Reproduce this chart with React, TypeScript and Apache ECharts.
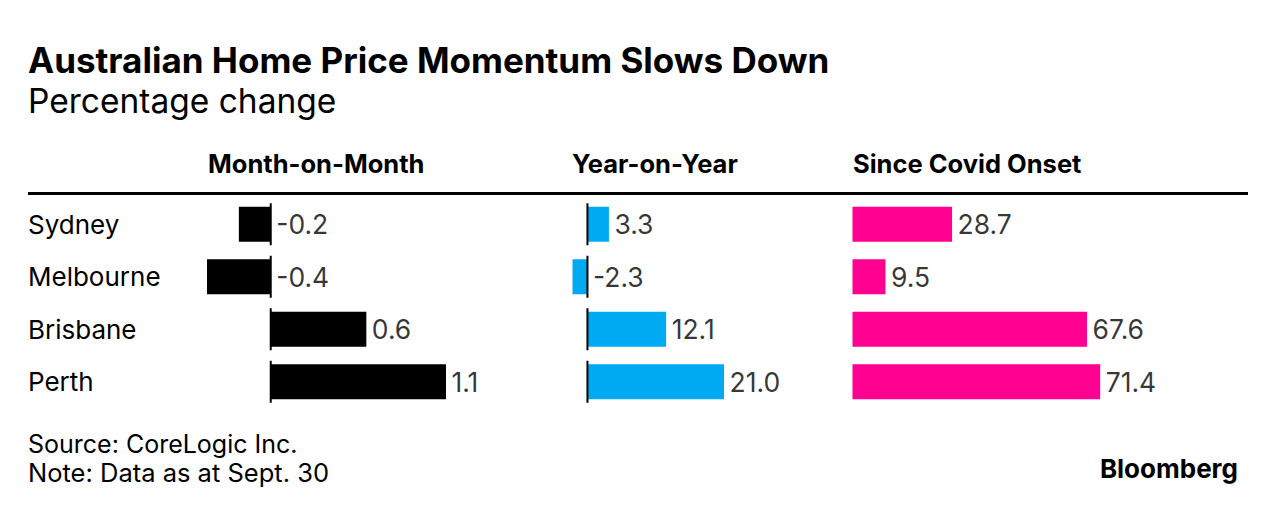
import React, { useEffect, useRef } from "react";
import * as echarts from "echarts";

const cities = ["Sydney", "Melbourne", "Brisbane", "Perth"];
const monthOnMonth = [-0.2, -0.4, 0.6, 1.1];
const yearOnYear = [3.3, -2.3, 12.1, 21.0];
const sinceCovid = [28.7, 9.5, 67.6, 71.4];
const panelTitles = ["Month-on-Month", "Year-on-Year", "Since Covid Onset"];
const panelColors = ["#000000", "#00AAF2", "#FF0090"];

const titleText = "Australian Home Price Momentum Slows Down";
const subtitleText = "Percentage change";
const sourceText = "Source: CoreLogic Inc.";
const noteText = "Note: Data as at Sept. 30";
const brandText = "Bloomberg";

const FONT = "Inter, 'Liberation Sans', Arial, sans-serif";

export default function App() {
  const ref = useRef<HTMLDivElement>(null);

  useEffect(() => {
    if (!ref.current) return;
    const chart = echarts.init(ref.current, undefined, { renderer: "svg" });

    const panels = [
      { values: monthOnMonth, min: -0.4, max: 1.1, left: 207, width: 239, zeroLine: true, headerX: 208 },
      { values: yearOnYear, min: -2.3, max: 21.0, left: 572.5, width: 151.5, zeroLine: true, headerX: 572 },
      { values: sinceCovid, min: 0, max: 71.4, left: 852.5, width: 247.7, zeroLine: false, headerX: 853 },
    ];

    const grids = panels.map((p) => ({ left: p.left, width: p.width, top: 198, height: 210 }));
    const xAxes = panels.map((p, i) => ({
      type: "value",
      gridIndex: i,
      min: p.min,
      max: p.max,
      show: false,
      splitLine: { show: false },
    }));
    const yAxes = panels.map((p, i) => ({
      type: "category",
      gridIndex: i,
      data: cities,
      inverse: true,
      axisLine: { show: false },
      axisTick: { show: false },
      axisLabel: {
        show: i === 0,
        align: "left",
        margin: p.left - 28,
        fontFamily: FONT,
        fontSize: 26,
        color: "#000",
        padding: [0, 0, 9, 0],
      },
    }));

    const series: any[] = [];
    panels.forEach((p, i) => {
      series.push({
        type: "bar",
        xAxisIndex: i,
        yAxisIndex: i,
        data: p.values,
        barWidth: 35,
        itemStyle: { color: panelColors[i] },
        silent: true,
        z: 2,
      });
      series.push({
        type: "scatter",
        xAxisIndex: i,
        yAxisIndex: i,
        data: p.values.map((v, k) => [Math.max(v, 0), k, v]),
        symbol: "circle",
        symbolSize: 1,
        itemStyle: { color: "rgba(0,0,0,0)" },
        silent: true,
        z: 4,
        label: {
          show: true,
          position: "right",
          distance: 5,
          fontFamily: FONT,
          fontSize: 26.5,
          color: "#000",
          formatter: (pr: any) => Number(pr.data[2]).toFixed(1),
        },
      });
      if (p.zeroLine) {
        series.push({
          type: "custom",
          xAxisIndex: i,
          yAxisIndex: i,
          data: p.values.map((_, k) => [0, k]),
          encode: { x: 0, y: 1 },
          silent: true,
          z: 5,
          renderItem: (params: any, api: any) => {
            const c = api.coord([api.value(0), api.value(1)]);
            const band = api.size([0, 1])[1];
            return {
              type: "line",
              shape: { x1: c[0], y1: c[1] - band * 0.4, x2: c[0], y2: c[1] + band * 0.4 },
              style: { stroke: "#000", lineWidth: 2 },
            };
          },
        });
      }
    });

    const txt = (text: string, x: number, y: number, font: string, align = "left") => ({
      type: "text",
      x,
      y,
      style: { text, font, fill: "#000", align, verticalAlign: "middle" },
    });

    const graphic: any[] = [
      txt(titleText, 28, 60, `bold 35px ${FONT}`),
      txt(subtitleText, 28, 101, `33.5px ${FONT}`),
      ...panels.map((p, i) => txt(panelTitles[i], p.headerX, 163, `bold 25.5px ${FONT}`)),
      {
        type: "rect",
        shape: { x: 28, y: 192, width: 1220, height: 3 },
        style: { fill: "#000" },
      },
      txt(sourceText, 28, 444, `25px ${FONT}`),
      txt(noteText, 28, 472, `25.5px ${FONT}`),
      txt(brandText, 1238, 468, `bold 26px ${FONT}`, "right"),
    ];

    chart.setOption({
      animation: false,
      backgroundColor: "#fff",
      grid: grids,
      xAxis: xAxes,
      yAxis: yAxes,
      series,
      graphic,
    });

    return () => chart.dispose();
  }, []);

  return (
    <div
      ref={ref}
      style={{ position: "absolute", left: 0, top: 0, width: 1276, height: 514 }}
    />
  );
}
